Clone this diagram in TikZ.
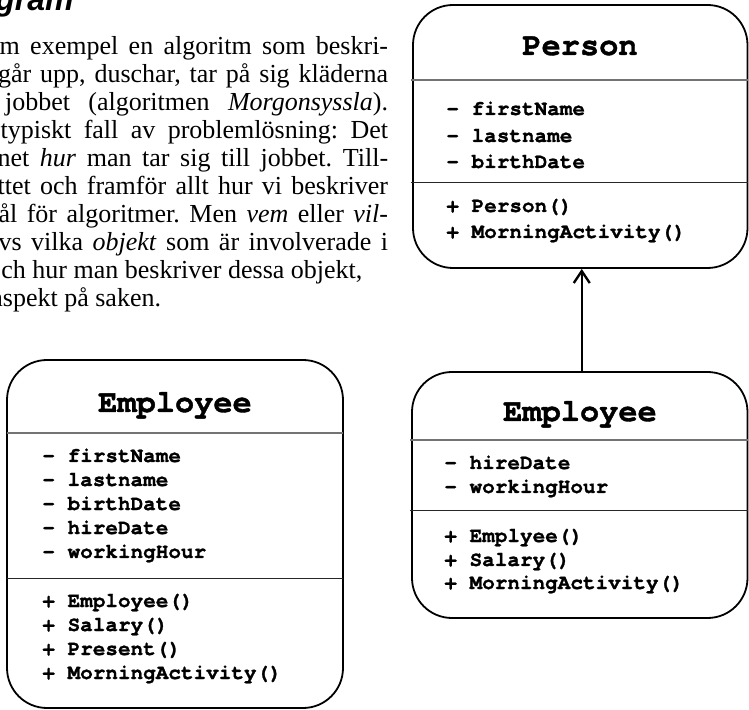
\documentclass[tikz,border=0pt]{standalone}
\usepackage{fontspec}
\setmainfont{Liberation Serif}
\newfontfamily\headsans{Liberation Sans}
\newfontfamily\umlmono{texgyrecursor}[Extension=.otf,UprightFont=*-regular,BoldFont=*-bold,Ligatures=NoCommon,BoldFeatures={FakeBold=1.2}]
\usetikzlibrary{arrows.meta,fit}

% justified line of running text, width in pt
\newcommand{\jline}[2]{\hbox to #1{#2}}

\begin{document}
\frenchspacing
\begin{tikzpicture}[x=0.5pt,y=-0.5pt,
  umlbox/.style={draw,line width=0.9pt,rounded corners=20pt,inner sep=0pt},
  classname/.style={font=\umlmono\bfseries\fontsize{16}{18}\selectfont,anchor=base,inner sep=0pt},
  member/.style={font=\umlmono\bfseries\fontsize{10.5}{12}\selectfont,anchor=base west,inner sep=0pt},
  headrule/.style={black!55,line width=0.6pt},
  partrule/.style={black!85,line width=0.5pt},
  bodytext/.style={font=\fontsize{13}{15}\selectfont,anchor=base east,inner sep=0pt}]
\useasboundingbox (0,0) rectangle (749,710);
\clip (0,0) rectangle (749,710);

% ---------------- running text (cut at the left) ----------------
\node[font=\headsans\bfseries\itshape\fontsize{16}{18}\selectfont,anchor=base east,inner sep=0pt] (head) at (74,11) {gram};
\node[bodytext] (t1) at (388.5,55)  {\jline{194.25pt}{m exempel en algoritm som beskri-}};
\node[bodytext] (t2) at (388.5,83)  {\jline{195pt}{går upp, duschar, tar på sig kläderna}};
\node[bodytext] (t3) at (388.5,111) {\jline{191.5pt}{jobbet (algoritmen \textit{Morgonsyssla}).}};
\node[bodytext] (t4) at (388.5,139) {\jline{193.75pt}{typiskt fall av problemlösning: Det}};
\node[bodytext] (t5) at (388.5,167) {\jline{195.25pt}{net \textit{hur} man tar sig till jobbet. Till-}};
\node[bodytext] (t6) at (388.5,195) {\jline{195.25pt}{ttet och framför allt hur vi beskriver}};
\node[bodytext] (t7) at (388.5,223) {\jline{194.75pt}{ål för algoritmer. Men \textit{vem} eller \textit{vil-}}};
\node[bodytext] (t8) at (388.5,251) {\jline{194.75pt}{vs vilka \textit{objekt} som är involverade i}};
\node[bodytext,anchor=base west] (t9) at (1,279) {ch hur man beskriver dessa objekt,};
\node[bodytext,anchor=base west] (t10) at (-9,307) {aspekt på saken.};

% ---------------- Person (superclass) ----------------
\node[umlbox,fit={(413,5) (747.5,268)}] (person) {};
\draw[headrule] (411,80) -- (747.5,80);
\draw[partrule] (411,183) -- (747.5,183);
\node[classname] (person-name) at (580,55) {Person};
\node[member] (person-a1) at (446,115) {- firstName};
\node[member] (person-a2) at (446,142) {- lastname};
\node[member] (person-a3) at (446,168) {- birthDate};
\node[member] (person-m1) at (446,212) {+ Person()};
\node[member] (person-m2) at (446,238) {+ MorningActivity()};

% ---------------- Employee (subclass, right) ----------------
\node[umlbox,fit={(412,372) (747.5,618)}] (sub) {};
\draw[headrule] (410,440) -- (747.5,440);
\draw[partrule] (410,511) -- (747.5,511);
\node[classname] (sub-name) at (580,421) {Employee};
\node[member] (sub-a1) at (444,469) {- hireDate};
\node[member] (sub-a2) at (444,493) {- workingHour};
\node[member] (sub-m1) at (444,542) {+ Emplyee()};
\node[member] (sub-m2) at (444,566) {+ Salary()};
\node[member] (sub-m3) at (444,589) {+ MorningActivity()};

% inheritance arrow
\draw[-{Straight Barb[length=6pt,width=8pt,line width=1.2pt]},line width=1pt] (sub.north) ++(2,0) coordinate (sub-top) -- (sub-top |- person.south);

% ---------------- Employee (flat, left) ----------------
\node[umlbox,fit={(7,360) (343,708)}] (emp) {};
\draw[headrule] (7,433) -- (343,433);
\draw[partrule] (7,578) -- (343,578);
\node[classname] (emp-name) at (175,412) {Employee};
\node[member] (emp-a1) at (42,462) {- firstName};
\node[member] (emp-a2) at (42,486) {- lastname};
\node[member] (emp-a3) at (42,510) {- birthDate};
\node[member] (emp-a4) at (42,534) {- hireDate};
\node[member] (emp-a5) at (42,558) {- workingHour};
\node[member] (emp-m1) at (42,607) {+ Employee()};
\node[member] (emp-m2) at (42,631) {+ Salary()};
\node[member] (emp-m3) at (42,655) {+ Present()};
\node[member] (emp-m4) at (42,679) {+ MorningActivity()};
\end{tikzpicture}
\end{document}
